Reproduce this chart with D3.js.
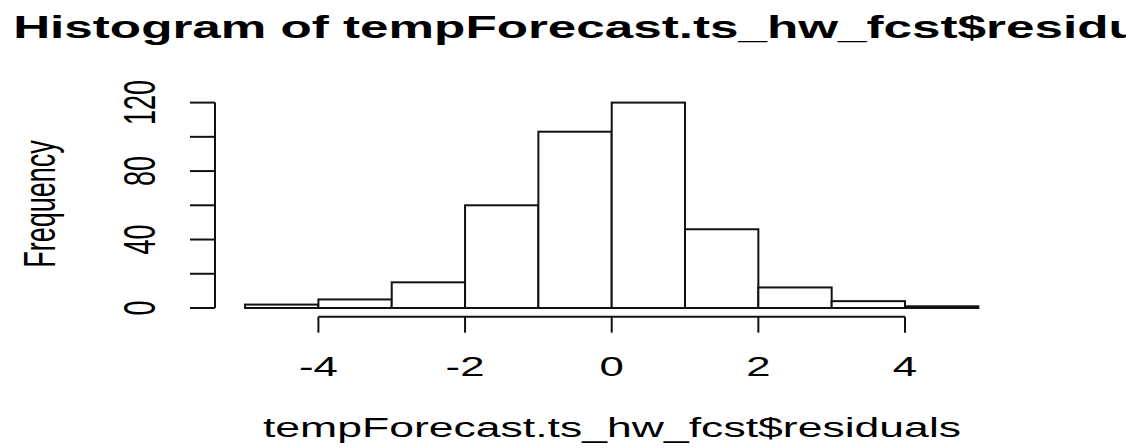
<!DOCTYPE html>
<html>
<head>
<meta charset="utf-8">
<script src="https://cdn.jsdelivr.net/npm/d3@7"></script>
<style>
  html, body { margin: 0; padding: 0; background: #fff; }
  svg { display: block; }
  text { font-family: "Liberation Sans", Arial, sans-serif; fill: #000; }
</style>
</head>
<body>
<svg id="chart" width="1126" height="448"></svg>
<script>
// Histogram bins (break points) and counts per bin
const breaks = [-5, -4, -3, -2, -1, 0, 1, 2, 3, 4, 5];
const counts = [2, 5, 15, 60, 103, 120, 46, 12, 4, 1];

// Axis ticks
const xTicks = [-4, -2, 0, 2, 4];
const yTicks = [0, 20, 40, 60, 80, 100, 120];
const yTickLabels = [0, 40, 80, 120];

const titleText = "Histogram of tempForecast.ts_hw_fcst$residuals";
const xLabelText = "tempForecast.ts_hw_fcst$residuals";
const yLabelText = "Frequency";

const W = 1126, H = 448;
const SX = 1.62;           // horizontal text stretch
const svg = d3.select("#chart");

const x = d3.scaleLinear().domain([0, 4]).range([611.7, 905]);
const y = d3.scaleLinear().domain([0, 120]).range([308, 102.6]);

const bins = counts.map((c, i) => ({ x0: breaks[i], x1: breaks[i + 1], count: c }));

// Bars
svg.append("g")
  .selectAll("rect")
  .data(bins)
  .join("rect")
  .attr("x", d => x(d.x0))
  .attr("y", d => y(d.count))
  .attr("width", d => x(d.x1) - x(d.x0))
  .attr("height", d => y(0) - y(d.count))
  .attr("fill", "#fff")
  .attr("stroke", "#111")
  .attr("stroke-width", 2);

// X axis
const xAxisY = 316.7;
const gx = svg.append("g").attr("transform", `translate(0,${xAxisY})`);
gx.append("line")
  .attr("x1", x(xTicks[0])).attr("x2", x(xTicks[xTicks.length - 1]))
  .attr("stroke", "#111").attr("stroke-width", 2);
gx.selectAll("line.tick")
  .data(xTicks)
  .join("line")
  .attr("class", "tick")
  .attr("x1", d => x(d)).attr("x2", d => x(d))
  .attr("y1", 0).attr("y2", 16)
  .attr("stroke", "#111").attr("stroke-width", 2);
svg.append("g")
  .selectAll("text")
  .data(xTicks)
  .join("text")
  .attr("transform", d => `translate(${x(d)},376) scale(${SX},1)`)
  .attr("text-anchor", "middle")
  .attr("font-size", 27)
  .text(d => d < 0 ? "-" + Math.abs(d) : String(d));

// Y axis
const yAxisX = 215;
const gy = svg.append("g").attr("transform", `translate(${yAxisX},0)`);
gy.append("line")
  .attr("y1", y(yTicks[0])).attr("y2", y(yTicks[yTicks.length - 1]))
  .attr("stroke", "#111").attr("stroke-width", 2);
gy.selectAll("line.tick")
  .data(yTicks)
  .join("line")
  .attr("class", "tick")
  .attr("y1", d => y(d)).attr("y2", d => y(d))
  .attr("x1", 0).attr("x2", -25)
  .attr("stroke", "#111").attr("stroke-width", 2);
svg.append("g")
  .selectAll("text")
  .data(yTickLabels)
  .join("text")
  .attr("transform", d => `translate(155,${y(d)}) scale(${SX},1) rotate(-90)`)
  .attr("text-anchor", "middle")
  .attr("font-size", 27)
  .text(d => String(d));

// Titles
svg.append("text")
  .attr("transform", `translate(612,38) scale(1.6,1)`)
  .attr("text-anchor", "middle")
  .attr("font-size", 32)
  .attr("font-weight", "bold")
  .text(titleText);

svg.append("text")
  .attr("transform", `translate(612,437) scale(1.65,1)`)
  .attr("text-anchor", "middle")
  .attr("font-size", 27)
  .text(xLabelText);

svg.append("text")
  .attr("transform", `translate(55,204) scale(${SX},1) rotate(-90)`)
  .attr("text-anchor", "middle")
  .attr("font-size", 27)
  .text(yLabelText);
</script>
</body>
</html>
